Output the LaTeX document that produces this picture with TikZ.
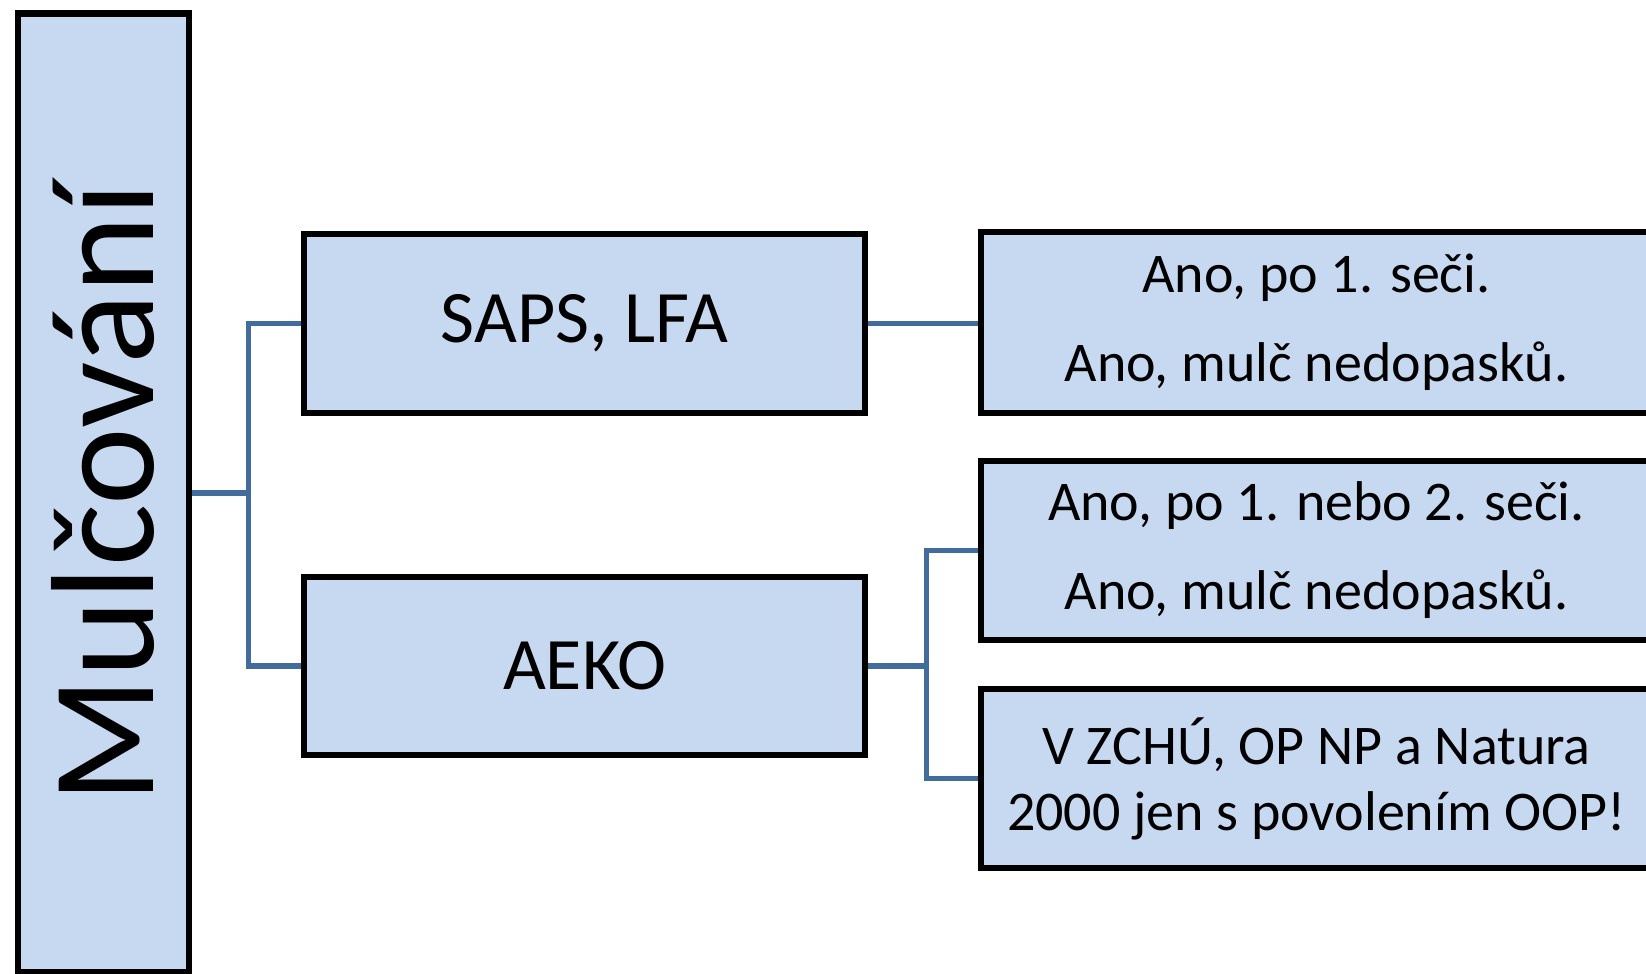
\documentclass[tikz,border=0pt]{standalone}
\usepackage{fontspec}
\setmainfont{Carlito}
\usetikzlibrary{backgrounds}
\definecolor{boxfill}{RGB}{198,217,241}
\definecolor{connblue}{RGB}{65,108,156}
\begin{document}
\begin{tikzpicture}[x=1pt,y=-1pt,
  box/.style={draw=black,line width=6.5pt,fill=boxfill,rectangle,inner sep=0pt,align=center,text=black},
  conn/.style={draw=connblue,line width=5.5pt}]
\useasboundingbox (0,0) rectangle (1646,974);
% main vertical box
\node[box,minimum width=171pt,minimum height=959pt] (mul) at (103.5,493) {};
\node[rotate=90,font=\fontsize{147}{168}\selectfont] (multext) at (mul.center) {Mulčování};
% middle column
\node[box,minimum width=561pt,minimum height=179pt,font=\fontsize{74}{88}\selectfont] (saps) at (584.5,323.5) {SAPS, LFA};
\node[box,minimum width=561pt,minimum height=178pt,font=\fontsize{74}{88}\selectfont] (aeko) at (584.5,666) {AEKO};
% right column
\node[box,minimum width=671pt,minimum height=181pt,font=\fontsize{56}{68}\selectfont] (r1) at (1316.5,322.5) {Ano, po 1. seči.\\[21pt]Ano, mulč nedopasků.};
\node[box,minimum width=671pt,minimum height=179pt,font=\fontsize{56}{68}\selectfont] (r2) at (1316.5,550.5) {Ano, po 1. nebo 2. seči.\\[21pt]Ano, mulč nedopasků.};
\node[box,minimum width=671pt,minimum height=179pt,font=\fontsize{56}{66}\selectfont] (r3) at (1316.5,778.5) {V ZCHÚ, OP NP a Natura\\2000 jen s povolením OOP!};
% connectors
\begin{pgfonlayer}{background}
\path (mul.east) -- ++(56,0) coordinate (j1);
\path (aeko.east) -- ++(58,0) coordinate (j2);
\draw[conn] (mul.east) -- (j1);
\draw[conn] (j1) |- (saps.west);
\draw[conn] (j1) |- (aeko.west);
\draw[conn] (saps.east) -- (saps.east -| r1.west);
\draw[conn] (aeko.east) -- (j2);
\draw[conn] (j2) |- (r2.west);
\draw[conn] (j2) |- (r3.west);
\end{pgfonlayer}
\end{tikzpicture}
\end{document}
